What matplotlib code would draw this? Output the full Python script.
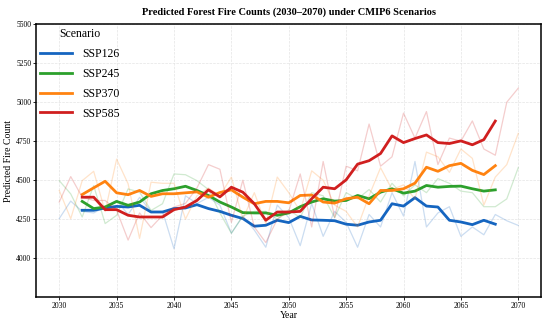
import matplotlib
matplotlib.use("Agg")
import matplotlib.pyplot as plt
import numpy as np

plt.rcParams['font.family'] = ['Liberation Serif', 'DejaVu Serif']

years = list(range(2030, 2071))
smooth_years = list(range(2032, 2069))

# yearly predictions (thin, faint lines)
ssp126_raw = [4254, 4366, 4300, 4290, 4330, 4370, 4280, 4390, 4300, 4300,
              4060, 4400, 4350, 4390, 4340, 4160, 4270, 4180, 4070, 4340,
              4260, 4080, 4350, 4140, 4300, 4230, 4070, 4280, 4200, 4420,
              4270, 4620, 4200, 4290, 4330, 4140, 4200, 4150, 4280, 4240, 4210]
ssp245_raw = [4497, 4412, 4264, 4465, 4222, 4275, 4444, 4423, 4306, 4349,
              4540, 4535, 4497, 4440, 4290, 4160, 4270, 4300, 4300, 4250,
              4310, 4260, 4420, 4400, 4260, 4420, 4380, 4440, 4360, 4480,
              4400, 4470, 4420, 4510, 4480, 4430, 4420, 4330, 4330, 4380, 4580]
ssp370_raw = [4434, 4253, 4497, 4557, 4299, 4635, 4477, 4127, 4487, 4480,
              4480, 4250, 4400, 4450, 4400, 4520, 4250, 4420, 4220, 4520,
              4420, 4300, 4560, 4500, 4340, 4300, 4200, 4400, 4580, 4440,
              4470, 4380, 4680, 4650, 4550, 4700, 4640, 4340, 4520, 4600, 4800]
ssp585_raw = [4360, 4523, 4391, 4370, 4370, 4307, 4116, 4290, 4196, 4275,
              4328, 4351, 4450, 4600, 4570, 4230, 4500, 4200, 4100, 4250,
              4300, 4540, 4200, 4620, 4260, 4590, 4560, 4860, 4590, 4650,
              4930, 4770, 4940, 4600, 4770, 4750, 4880, 4700, 4660, 5000, 5090]

# 5-year smoothed trends (thick lines)
ssp126_smooth = [4307, 4307, 4322, 4332, 4328, 4339, 4296, 4296, 4318, 4322,
                 4343, 4318, 4300, 4275, 4254, 4205, 4211, 4243, 4228, 4268,
                 4245, 4243, 4240, 4218, 4211, 4232, 4243, 4349, 4334, 4388,
                 4334, 4328, 4243, 4232, 4215, 4243, 4218]
ssp245_smooth = [4364, 4318, 4328, 4364, 4339, 4360, 4413, 4434, 4445, 4461,
                 4434, 4402, 4360, 4328, 4292, 4290, 4290, 4275, 4290, 4330,
                 4360, 4381, 4366, 4370, 4402, 4381, 4423, 4445, 4417, 4430,
                 4466, 4455, 4460, 4462, 4445, 4430, 4438]
ssp370_smooth = [4408, 4451, 4493, 4419, 4407, 4434, 4396, 4413, 4413, 4419,
                 4425, 4391, 4421, 4438, 4391, 4349, 4364, 4364, 4355, 4402,
                 4405, 4360, 4353, 4381, 4391, 4349, 4434, 4434, 4445, 4481,
                 4583, 4557, 4593, 4608, 4563, 4536, 4593]
ssp585_smooth = [4391, 4391, 4311, 4311, 4275, 4264, 4264, 4264, 4311, 4328,
                 4370, 4438, 4393, 4455, 4423, 4349, 4243, 4296, 4296, 4300,
                 4381, 4455, 4445, 4502, 4603, 4625, 4671, 4784, 4741, 4767,
                 4790, 4741, 4735, 4752, 4727, 4760, 4879]

labels = ['SSP126', 'SSP245', 'SSP370', 'SSP585']
colors = ['#1565c0', '#2ca02c', '#ff8311', '#d01f1f']
raws = [ssp126_raw, ssp245_raw, ssp370_raw, ssp585_raw]
smooths = [ssp126_smooth, ssp245_smooth, ssp370_smooth, ssp585_smooth]

fig = plt.figure(figsize=(5.5, 3.23), dpi=100)
ax = fig.add_axes([0.066, 0.08, 0.918, 0.845])

for raw, sm, c, lab in zip(raws, smooths, colors, labels):
    ax.plot(years, raw, color=c, lw=0.9, alpha=0.22)
    ax.plot(smooth_years, sm, color=c, lw=2.0, label=lab)

ax.set_xlim(2028, 2072)
ax.set_ylim(3750, 5500)
ax.set_xticks(range(2030, 2071, 5))
ax.set_yticks(range(4000, 5501, 250))
ax.tick_params(labelsize=5.5, length=2, width=0.6, pad=1.5)
ax.grid(True, ls='--', lw=0.5, color='#e4e4e4')
for s in ax.spines.values():
    s.set_linewidth(1.1)

ax.set_xlabel('Year', fontsize=7, labelpad=0.5)
ax.set_ylabel('Predicted Fire Count', fontsize=7, labelpad=2)
ax.set_title('Predicted Forest Fire Counts (2030\u20132070) under CMIP6 Scenarios',
             fontsize=7.5, fontweight='bold', pad=7)

leg = ax.legend(title='Scenario', loc='upper left', frameon=False, fontsize=8.5,
                title_fontsize=8.5, handlelength=2.7, labelspacing=0.66,
                borderaxespad=0.1, borderpad=0.25)

fig.savefig('out.png', dpi=100)
